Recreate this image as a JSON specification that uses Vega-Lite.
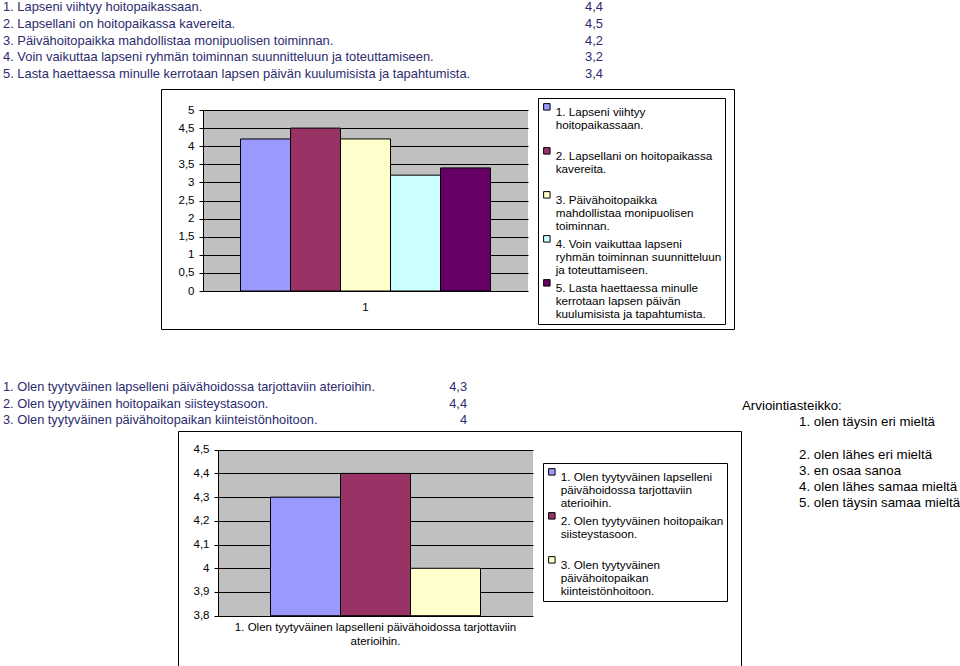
{
  "$schema": "https://vega.github.io/schema/vega-lite/v6.json",
  "background": "white",
  "padding": 0,
  "autosize": {"type": "pad"},
  "spacing": 0,
  "resolve": {"scale": {"color": "independent"}, "legend": {"color": "independent"}},
  "datasets": {
    "hoito": [
      {"vaite": "1. Lapseni viihtyy hoitopaikassaan.", "taulukko": 4.4, "kaavio": 4.2, "luokka": "1"},
      {"vaite": "2. Lapsellani on hoitopaikassa kavereita.", "taulukko": 4.5, "kaavio": 4.5, "luokka": "1"},
      {"vaite": "3. Päivähoitopaikka mahdollistaa monipuolisen toiminnan.", "taulukko": 4.2, "kaavio": 4.2, "luokka": "1"},
      {"vaite": "4. Voin vaikuttaa lapseni ryhmän toiminnan suunnitteluun ja toteuttamiseen.", "taulukko": 3.2, "kaavio": 3.2, "luokka": "1"},
      {"vaite": "5. Lasta haettaessa minulle kerrotaan lapsen päivän kuulumisista ja tapahtumista.", "taulukko": 3.4, "kaavio": 3.4, "luokka": "1"}
    ],
    "tyytyvaisyys": [
      {"vaite": "1. Olen tyytyväinen lapselleni päivähoidossa tarjottaviin aterioihin.", "arvo": 4.3},
      {"vaite": "2. Olen tyytyväinen hoitopaikan siisteystasoon.", "arvo": 4.4},
      {"vaite": "3. Olen tyytyväinen päivähoitopaikan kiinteistönhoitoon.", "arvo": 4.0}
    ],
    "asteikko": [
      {"rivi": 0, "tyyppi": "otsikko", "teksti": "Arviointiasteikko:"},
      {"rivi": 1, "tyyppi": "kohta", "teksti": "1. olen täysin eri mieltä"},
      {"rivi": 3, "tyyppi": "kohta", "teksti": "2. olen lähes eri mieltä"},
      {"rivi": 4, "tyyppi": "kohta", "teksti": "3. en osaa sanoa"},
      {"rivi": 5, "tyyppi": "kohta", "teksti": "4. olen lähes samaa mieltä"},
      {"rivi": 6, "tyyppi": "kohta", "teksti": "5. olen täysin samaa mieltä"}
    ]
  },
  "config": {
    "view": {"stroke": null, "fill": "white"},
    "font": "Liberation Sans",
    "locale": {"number": {"decimal": ",", "thousands": " ", "grouping": [3], "currency": ["", " €"]}},
    "axis": {"labelFont": "Liberation Sans", "labelColor": "black", "labelFontSize": 11.5, "title": null, "domainColor": "black", "tickColor": "black"}
  },
  "vconcat": [
    {
      "width": 620, "height": 88,
      "data": {"name": "hoito"},
      "encoding": {"y": {"field": "vaite", "type": "ordinal", "sort": null, "scale": {"type": "point", "range": [7, 74], "padding": 0}, "axis": null}},
      "layer": [
        {"mark": {"type": "text", "align": "left", "baseline": "middle", "fontSize": 12.9, "color": "#2b2b6e"},
         "encoding": {"x": {"datum": "vaite", "scale": {"type": "point", "domain": ["vaite", "taulukko"], "range": [3, 603], "padding": 0}, "axis": null}, "text": {"field": "vaite"}}},
        {"mark": {"type": "text", "align": "right", "baseline": "middle", "fontSize": 12.9, "color": "#2b2b6e"},
         "encoding": {"x": {"datum": "taulukko"}, "text": {"field": "taulukko", "type": "quantitative", "format": ".1~f"}}}
      ]
    },
    {
      "hconcat": [
        {"width": 160, "height": 240, "data": {"values": []}, "mark": "point"},
        {
          "width": 573, "height": 240,
          "view": {"stroke": "black", "strokeWidth": 1, "fill": "white"},
          "data": {"name": "hoito"},
          "mark": {"type": "bar", "stroke": "black", "strokeWidth": 1},
          "encoding": {
            "x": {"field": "vaite", "type": "nominal", "sort": null,
                  "scale": {"range": [42, 367], "paddingInner": 0, "paddingOuter": 0.75},
                  "axis": {"orient": "top", "offset": -21, "labelAngle": 0, "labelPadding": -197, "labelBaseline": "middle", "ticks": false, "tickSize": 0, "domain": false,
                           "grid": true, "gridColor": "#c0c0c0", "gridWidth": 125, "gridOpacity": 1,
                           "labelExpr": "indexof(datum.label,'3.')==0 ? '1' : ''"}},
            "y": {"field": "kaavio", "type": "quantitative",
                  "scale": {"domain": [0, 5], "range": [202, 21], "nice": false},
                  "axis": {"orient": "left", "offset": -42, "tickCount": 10, "format": ".1~f", "grid": true, "gridColor": "black", "gridOpacity": 1, "tickSize": 4, "labelPadding": 5}},
            "color": {"field": "vaite", "type": "nominal", "sort": null,
                      "scale": {"range": ["#9999FF", "#993366", "#FFFFCC", "#CCFFFF", "#660066"]},
                      "legend": {"orient": "none", "legendX": 377, "legendY": 9, "title": null, "direction": "vertical",
                                 "symbolType": "square", "symbolSize": 42, "symbolStrokeColor": "black", "symbolStrokeWidth": 1, "symbolOpacity": 1,
                                 "labelFont": "Liberation Sans", "labelFontSize": 11.7, "labelColor": "black", "labelBaseline": "top", "labelLimit": 400, "labelOffset": 3,
                                 "strokeColor": "black", "padding": 3, "rowPadding": 0,
                                 "encode": {"labels": {"update": {"lineHeight": {"value": 13}}}},
                                 "labelExpr": "indexof(datum.label,'1.')==0 ? ['1. Lapseni viihtyy','hoitopaikassaan.',' '] : indexof(datum.label,'2.')==0 ? ['2. Lapsellani on hoitopaikassa','kavereita.',' '] : indexof(datum.label,'3.')==0 ? ['3. Päivähoitopaikka','mahdollistaa monipuolisen','toiminnan.'] : indexof(datum.label,'4.')==0 ? ['4. Voin vaikuttaa lapseni','ryhmän toiminnan suunnitteluun','ja toteuttamiseen.'] : ['5. Lasta haettaessa minulle','kerrotaan lapsen päivän','kuulumisista ja tapahtumista.']"}}
          }
        }
      ],
      "spacing": 0,
      "resolve": {"scale": {"color": "independent"}, "legend": {"color": "independent"}}
    },
    {
      "hconcat": [
        {
          "vconcat": [
            {
              "width": 480, "height": 100,
              "data": {"name": "tyytyvaisyys"},
              "encoding": {"y": {"field": "vaite", "type": "ordinal", "sort": null, "scale": {"type": "point", "range": [57, 90], "padding": 0}, "axis": null}},
              "layer": [
                {"mark": {"type": "text", "align": "left", "baseline": "middle", "fontSize": 12.8, "color": "#2b2b6e"},
                 "encoding": {"x": {"datum": "vaite", "scale": {"type": "point", "domain": ["vaite", "arvo"], "range": [3, 467], "padding": 0}, "axis": null}, "text": {"field": "vaite"}}},
                {"mark": {"type": "text", "align": "right", "baseline": "middle", "fontSize": 12.8, "color": "#2b2b6e"},
                 "encoding": {"x": {"datum": "arvo"}, "text": {"field": "arvo", "type": "quantitative", "format": ".1~f"}}}
              ]
            },
            {
              "hconcat": [
                {"width": 177, "height": 237, "data": {"values": []}, "mark": "point"},
                {
                  "width": 563, "height": 237,
                  "view": {"stroke": "black", "strokeWidth": 1, "fill": "white"},
                  "data": {"name": "tyytyvaisyys"},
                  "mark": {"type": "bar", "stroke": "black", "strokeWidth": 1},
                  "encoding": {
                    "x": {"field": "vaite", "type": "nominal", "sort": null,
                          "scale": {"range": [40, 355], "paddingInner": 0, "paddingOuter": 0.75},
                          "axis": {"orient": "top", "offset": -18.7, "labelAngle": 0, "labelPadding": -171.5, "labelBaseline": "top", "ticks": false, "tickSize": 0, "domain": false,
                                   "grid": true, "gridColor": "#c0c0c0", "gridWidth": 175, "gridOpacity": 1, "labelLineHeight": 14, "labelLimit": 500,
                                   "labelExpr": "indexof(datum.label,'2.')==0 ? ['1. Olen tyytyväinen lapselleni päivähoidossa tarjottaviin', 'aterioihin.'] : ''"}},
                    "y": {"field": "arvo", "type": "quantitative",
                          "scale": {"domain": [3.8, 4.5], "range": [184.7, 18.7], "nice": false, "zero": false},
                          "axis": {"orient": "left", "offset": -40, "tickCount": 7, "format": ".1~f", "grid": true, "gridColor": "black", "gridOpacity": 1, "tickSize": 4, "labelPadding": 5}},
                    "y2": {"datum": 3.8},
                    "color": {"field": "vaite", "type": "nominal", "sort": null,
                              "scale": {"range": ["#9999FF", "#993366", "#FFFFCC"]},
                              "legend": {"orient": "none", "legendX": 365, "legendY": 32, "title": null, "direction": "vertical",
                                         "symbolType": "square", "symbolSize": 42, "symbolStrokeColor": "black", "symbolStrokeWidth": 1, "symbolOpacity": 1,
                                         "labelFont": "Liberation Sans", "labelFontSize": 11.7, "labelColor": "black", "labelBaseline": "top", "labelLimit": 400, "labelOffset": 3,
                                         "strokeColor": "black", "padding": 3, "rowPadding": 0,
                                         "encode": {"labels": {"update": {"lineHeight": {"value": 13}}}},
                                         "labelExpr": "indexof(datum.label,'1.')==0 ? ['1. Olen tyytyväinen lapselleni','päivähoidossa tarjottaviin','aterioihin.'] : indexof(datum.label,'2.')==0 ? ['2. Olen tyytyväinen hoitopaikan','siisteystasoon.',' '] : ['3. Olen tyytyväinen','päivähoitopaikan','kiinteistönhoitoon.']"}}
                  }
                }
              ],
              "spacing": 0,
              "resolve": {"scale": {"color": "independent"}, "legend": {"color": "independent"}}
            }
          ],
          "spacing": 0,
          "resolve": {"scale": {"color": "independent"}, "legend": {"color": "independent"}}
        },
        {
          "width": 220, "height": 337,
          "data": {"name": "asteikko"},
          "mark": {"type": "text", "align": "left", "baseline": "middle", "fontSize": 13.3, "color": "black"},
          "encoding": {
            "x": {"field": "tyyppi", "type": "nominal", "scale": {"type": "point", "domain": ["otsikko", "kohta"], "range": [0, 57], "padding": 0}, "axis": null},
            "y": {"field": "rivi", "type": "quantitative", "scale": {"domain": [0, 6], "range": [76, 173]}, "axis": null},
            "text": {"field": "teksti"}
          }
        }
      ],
      "spacing": 0,
      "resolve": {"scale": {"color": "independent"}, "legend": {"color": "independent"}}
    }
  ]
}
